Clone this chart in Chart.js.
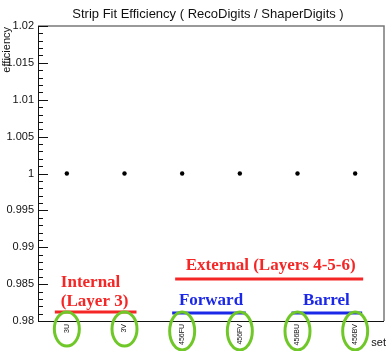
<!DOCTYPE html>
<html>
<head>
<meta charset="utf-8">
<script src="https://cdn.jsdelivr.net/npm/chart.js@4/dist/chart.umd.min.js"></script>
<style>
  html, body { margin: 0; padding: 0; background: #fff; }
  #wrap { width: 388px; height: 351px; }
</style>
</head>
<body>
<div id="wrap"><canvas id="eff-chart" width="388" height="351"></canvas></div>
<script>
    const setLabels = ['3U', '3V', '456FU', '456FV', '456BU', '456BV'];
    const efficiency = [1, 1, 1, 1, 1, 1];
    const yTicks = [0.98, 0.985, 0.99, 0.995, 1, 1.005, 1.01, 1.015, 1.02];

    const RED = 'rgb(245,38,38)';
    const BLUE = 'rgb(28,40,232)';
    const GREEN = 'rgb(112,200,40)';

    // title, axis titles, inward ticks and the hand-drawn group markers
    const decorations = {
        id: 'decorations',
        afterDraw(chart) {
            const ctx = chart.ctx;
            const area = chart.chartArea;
            const x = chart.scales.x;
            const y = chart.scales.y;
            ctx.save();

            ctx.fillStyle = '#111';
            ctx.font = '13px "Liberation Sans", Arial, sans-serif';
            ctx.textAlign = 'center';
            ctx.textBaseline = 'middle';
            ctx.fillText('Strip Fit Efficiency ( RecoDigits / ShaperDigits )', 208, 14);

            // frame
            ctx.lineWidth = 1.5;
            ctx.strokeStyle = 'rgb(120,120,120)';
            ctx.beginPath();
            ctx.moveTo(area.left, area.top);
            ctx.lineTo(area.right, area.top);
            ctx.lineTo(area.right, area.bottom);
            ctx.stroke();
            ctx.lineWidth = 1;
            ctx.strokeStyle = '#111';
            ctx.beginPath();
            ctx.moveTo(area.left + 0.5, area.top);
            ctx.lineTo(area.left + 0.5, area.bottom + 0.5);
            ctx.lineTo(area.right, area.bottom + 0.5);
            ctx.stroke();

            // y ticks drawn inwards, 4 minor between majors
            ctx.beginPath();
            for (let i = 0; i <= 40; i++) {
                const py = Math.round(y.getPixelForValue(0.98 + i * 0.001)) + 0.5;
                const len = i % 5 === 0 ? 10 : 5;
                ctx.moveTo(area.left, py);
                ctx.lineTo(area.left + len, py);
            }
            ctx.stroke();

            // axis titles
            ctx.font = '11px "Liberation Sans", Arial, sans-serif';
            ctx.textAlign = 'right';
            ctx.textBaseline = 'middle';
            ctx.fillText('set', 386, 343);
            ctx.save();
            ctx.translate(7, area.top + 1);
            ctx.rotate(-Math.PI / 2);
            ctx.fillText('efficiency', 0, 0);
            ctx.restore();

            const cx = i => x.getPixelForValue(i);

            // group labels and underlines
            ctx.textAlign = 'center';
            ctx.textBaseline = 'alphabetic';
            ctx.font = 'bold 17px "Liberation Serif", "Times New Roman", serif';
            ctx.lineWidth = 3;

            ctx.fillStyle = RED;
            ctx.strokeStyle = RED;
            ctx.fillText('External (Layers 4-5-6)', (cx(2) + cx(5)) / 2 + 2, 270);
            ctx.beginPath();
            ctx.moveTo(cx(2) - 7, 279);
            ctx.lineTo(cx(5) + 8, 279);
            ctx.stroke();

            ctx.textAlign = 'left';
            ctx.fillText('Internal', cx(0) - 6, 287);
            ctx.fillText('(Layer 3)', cx(0) - 6, 306);
            ctx.beginPath();
            ctx.moveTo(cx(0) - 12, 312);
            ctx.lineTo(cx(1) + 12, 312);
            ctx.stroke();

            ctx.textAlign = 'center';
            ctx.fillStyle = BLUE;
            ctx.strokeStyle = BLUE;
            ctx.fillText('Forward', (cx(2) + cx(3)) / 2, 305);
            ctx.beginPath();
            ctx.moveTo(cx(2) - 10, 313);
            ctx.lineTo(cx(3) + 6, 313);
            ctx.stroke();
            ctx.fillText('Barrel', (cx(4) + cx(5)) / 2, 305);
            ctx.beginPath();
            ctx.moveTo(cx(4) - 6, 313);
            ctx.lineTo(cx(5) + 7, 313);
            ctx.stroke();

            // rings round the set labels
            ctx.strokeStyle = GREEN;
            ctx.lineWidth = 3;
            setLabels.forEach((lab, i) => {
                const ry = lab.length > 2 ? 19 : 17;
                const cy = lab.length > 2 ? 331 : 329;
                ctx.beginPath();
                ctx.ellipse(cx(i), cy, 12.5, ry, 0, 0, Math.PI * 2);
                ctx.stroke();
            });

            ctx.restore();
        }
    };

    const ctx = document.getElementById('eff-chart').getContext('2d');
    const chart = new Chart(ctx, {
        type: 'line',
        data: {
            labels: setLabels,
            datasets: [{
                label: 'efficiency',
                data: efficiency,
                showLine: false,
                pointRadius: 2.2,
                pointBackgroundColor: '#000',
                pointBorderWidth: 0
            }]
        },
        options: {
            responsive: false,
            animation: false,
            layout: { padding: { top: 26, right: 2, left: 0, bottom: 0 } },
            plugins: {
                legend: { display: false },
                title: { display: false },
                tooltip: { enabled: false }
            },
            scales: {
                x: {
                    type: 'category',
                    offset: true,
                    grid: { display: false, drawTicks: false },
                    border: { display: false },
                    afterFit: scale => { scale.height = 30; },
                    ticks: {
                        minRotation: 90,
                        maxRotation: 90,
                        padding: 3,
                        color: '#111',
                        font: { family: '"Liberation Sans", Arial, sans-serif', size: 7 }
                    }
                },
                y: {
                    min: 0.98,
                    max: 1.02,
                    afterFit: scale => { scale.width = 38; },
                    afterBuildTicks: scale => { scale.ticks = yTicks.map(v => ({ value: v })); },
                    grid: { display: false, drawTicks: false },
                    border: { display: false },
                    ticks: {
                        padding: 4,
                        color: '#111',
                        font: { family: '"Liberation Sans", Arial, sans-serif', size: 11 },
                        callback: v => parseFloat(v.toFixed(3)).toString()
                    }
                }
            }
        },
        plugins: [decorations]
    });
</script>
</body>
</html>
